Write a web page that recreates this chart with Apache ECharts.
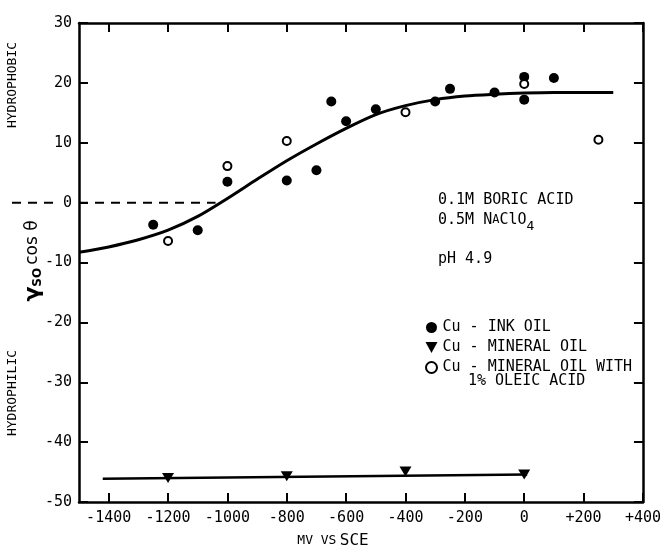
<!DOCTYPE html>
<html>
<head>
<meta charset="utf-8">
<script src="https://cdn.jsdelivr.net/npm/echarts@6/dist/echarts.min.js"></script>
<style>
html, body { margin: 0; padding: 0; background: #fff; }
#chart { width: 664px; height: 554px; }
</style>
</head>
<body>
<div id="chart"></div>
<script>
var MONO = "'DejaVu Sans Mono', 'Liberation Mono', monospace";

// Cu - INK OIL (filled circles)
var inkOil = [[-1250, -3.7], [-1100, -4.6], [-1000, 3.5], [-800, 3.7], [-700, 5.4], [-650, 16.9],
    [-600, 13.6], [-500, 15.6], [-300, 16.9], [-250, 19.0], [-100, 18.4], [0, 21.0], [0, 17.2], [100, 20.8]];
// Cu - MINERAL OIL (triangles)
var mineralOil = [[-1200, -46.0], [-800, -45.7], [-400, -44.9], [0, -45.4]];
var mineralFit = [[-1420, -46.1], [10, -45.4]];
// Cu - MINERAL OIL WITH 1% OLEIC ACID (open circles)
var oleicOil = [[-1200, -6.4], [-1000, 6.1], [-800, 10.3], [-400, 15.1], [0, 19.8], [250, 10.5]];
// drawn curve through the ink oil / oleic points
var fitCurve = [[-1500, -8.3], [-1400, -7.4], [-1300, -6.2], [-1200, -4.6], [-1100, -2.3], [-1000, 0.7],
    [-900, 3.9], [-800, 7.0], [-700, 9.8], [-600, 12.4], [-500, 14.7], [-400, 16.2], [-300, 17.2],
    [-200, 17.8], [-100, 18.1], [0, 18.3], [100, 18.4], [200, 18.4], [300, 18.4]];
// dashed zero reference
var zeroIn = [[-1500, 0], [-1040, 0]];
var xTicks = [-1400, -1200, -1000, -800, -600, -400, -200, 0, 200, 400];

var chart = echarts.init(document.getElementById('chart'));

var axisLine = { onZero: false, lineStyle: { color: '#000', width: 2.5 } };
var tick = { inside: true, length: 9, lineStyle: { color: '#000', width: 2 } };

var option = {
    animation: false,
    grid: { left: 79, right: 16, top: 23, bottom: 52 },
    xAxis: [{
        type: 'value', min: -1500, max: 400, position: 'bottom',
        axisLine: axisLine,
        axisTick: Object.assign({ customValues: xTicks }, tick),
        axisLabel: {
            customValues: xTicks, color: '#000', fontFamily: MONO, fontSize: 15, margin: 9,
            formatter: function (v) { return v > 0 ? '+' + v : '' + v; }
        },
        splitLine: { show: false }
    }, {
        type: 'value', min: -1500, max: 400, position: 'top',
        axisLine: axisLine,
        axisTick: Object.assign({ customValues: xTicks }, tick),
        axisLabel: { show: false },
        splitLine: { show: false }
    }],
    yAxis: [{
        type: 'value', min: -50, max: 30, interval: 10, position: 'left',
        axisLine: axisLine, axisTick: tick,
        axisLabel: { color: '#000', fontFamily: MONO, fontSize: 15, margin: 7 },
        splitLine: { show: false }
    }, {
        type: 'value', min: -50, max: 30, interval: 10, position: 'right',
        axisLine: axisLine, axisTick: tick,
        axisLabel: { show: false },
        splitLine: { show: false }
    }],
    legend: {
        orient: 'vertical', left: 420, top: 315, itemWidth: 12, itemHeight: 11, itemGap: 5,
        textStyle: { color: '#000', fontFamily: MONO, fontSize: 15 },
        data: [
            { name: 'Cu - INK OIL', icon: 'circle' },
            { name: 'Cu - MINERAL OIL', icon: 'path://M0,0L12,0L6,11Z' },
            { name: 'Cu - MINERAL OIL WITH', icon: 'emptyCircle' }
        ]
    },
    graphic: [
        { type: 'text', x: 13, y: 85, rotation: Math.PI / 2,
          style: { text: 'HYDROPHOBIC', fontFamily: MONO, fontSize: 13, fill: '#000', textAlign: 'center', textVerticalAlign: 'middle' } },
        { type: 'text', x: 13, y: 393, rotation: Math.PI / 2,
          style: { text: 'HYDROPHILIC', fontFamily: MONO, fontSize: 13, fill: '#000', textAlign: 'center', textVerticalAlign: 'middle' } },
        { type: 'text', x: 33, y: 261, rotation: Math.PI / 2,
          style: {
              text: '{g|γ}{s|SO}{t|cos θ}', textAlign: 'center', textVerticalAlign: 'middle',
              rich: {
                  g: { fontFamily: 'DejaVu Sans', fontWeight: 'bold', fontSize: 22, fill: '#000' },
                  s: { fontFamily: 'DejaVu Sans', fontWeight: 'bold', fontSize: 12, fill: '#000', padding: [10, 3, 0, 0] },
                  t: { fontFamily: 'DejaVu Sans', fontSize: 17, fill: '#000' }
              }
          } },
        { type: 'text', x: 333, y: 541,
          style: {
              text: '{s|MV VS} {b|SCE}', textAlign: 'center', textVerticalAlign: 'middle',
              rich: {
                  s: { fontFamily: MONO, fontSize: 13, fill: '#000' },
                  b: { fontFamily: MONO, fontSize: 16, fill: '#000' }
              }
          } },
        { type: 'text', x: 438, y: 200,
          style: { text: '0.1M BORIC ACID', fontFamily: MONO, fontSize: 15, fill: '#000', textVerticalAlign: 'middle' } },
        { type: 'text', x: 438, y: 220,
          style: {
              text: '{n|0.5M N}{c|A}{n|ClO}{u|4}', textVerticalAlign: 'middle',
              rich: {
                  n: { fontFamily: MONO, fontSize: 15, fill: '#000' },
                  c: { fontFamily: MONO, fontSize: 12, fill: '#000' },
                  u: { fontFamily: MONO, fontSize: 13, fill: '#000', padding: [14, 0, 0, 0] }
              }
          } },
        { type: 'text', x: 438, y: 259,
          style: { text: 'pH 4.9', fontFamily: MONO, fontSize: 15, fill: '#000', textVerticalAlign: 'middle' } },
        { type: 'text', x: 468, y: 381,
          style: { text: '1% OLEIC ACID', fontFamily: MONO, fontSize: 15, fill: '#000', textVerticalAlign: 'middle' } }
    ],
    series: [{
        type: 'line', data: fitCurve, smooth: 0.3, showSymbol: false, z: 2,
        lineStyle: { color: '#000', width: 3 }
    }, {
        type: 'line', data: zeroIn, showSymbol: false, z: 1,
        lineStyle: { color: '#000', width: 2, type: [9, 7] }
    }, {
        type: 'line', data: mineralFit, showSymbol: false, z: 2,
        lineStyle: { color: '#000', width: 2.5 }
    }, {
        name: 'Cu - INK OIL', type: 'scatter', data: inkOil, symbol: 'circle', symbolSize: 10, z: 3,
        itemStyle: { color: '#000', opacity: 1 }
    }, {
        name: 'Cu - MINERAL OIL', type: 'scatter', data: mineralOil, symbol: 'triangle', symbolRotate: 180,
        symbolSize: [12, 10], z: 3, itemStyle: { color: '#000', opacity: 1 }
    }, {
        name: 'Cu - MINERAL OIL WITH', type: 'scatter', data: oleicOil, symbol: 'emptyCircle', symbolSize: 8, z: 4,
        itemStyle: { color: '#000', borderColor: '#000', borderWidth: 2, opacity: 1 }
    }]
};

chart.setOption(option);

// dashed zero line continues out past the left axis up to the "0" label
var y0 = chart.convertToPixel({ yAxisIndex: 0 }, 0);
var xAxisLeft = chart.convertToPixel({ xAxisIndex: 0 }, -1500);
option.graphic.push({
    type: 'line', z: 1,
    shape: { x1: 12, y1: y0, x2: xAxisLeft - 19, y2: y0 },
    style: { stroke: '#000', lineWidth: 2, lineDash: [9, 7] }
});
chart.setOption(option);
</script>
</body>
</html>
